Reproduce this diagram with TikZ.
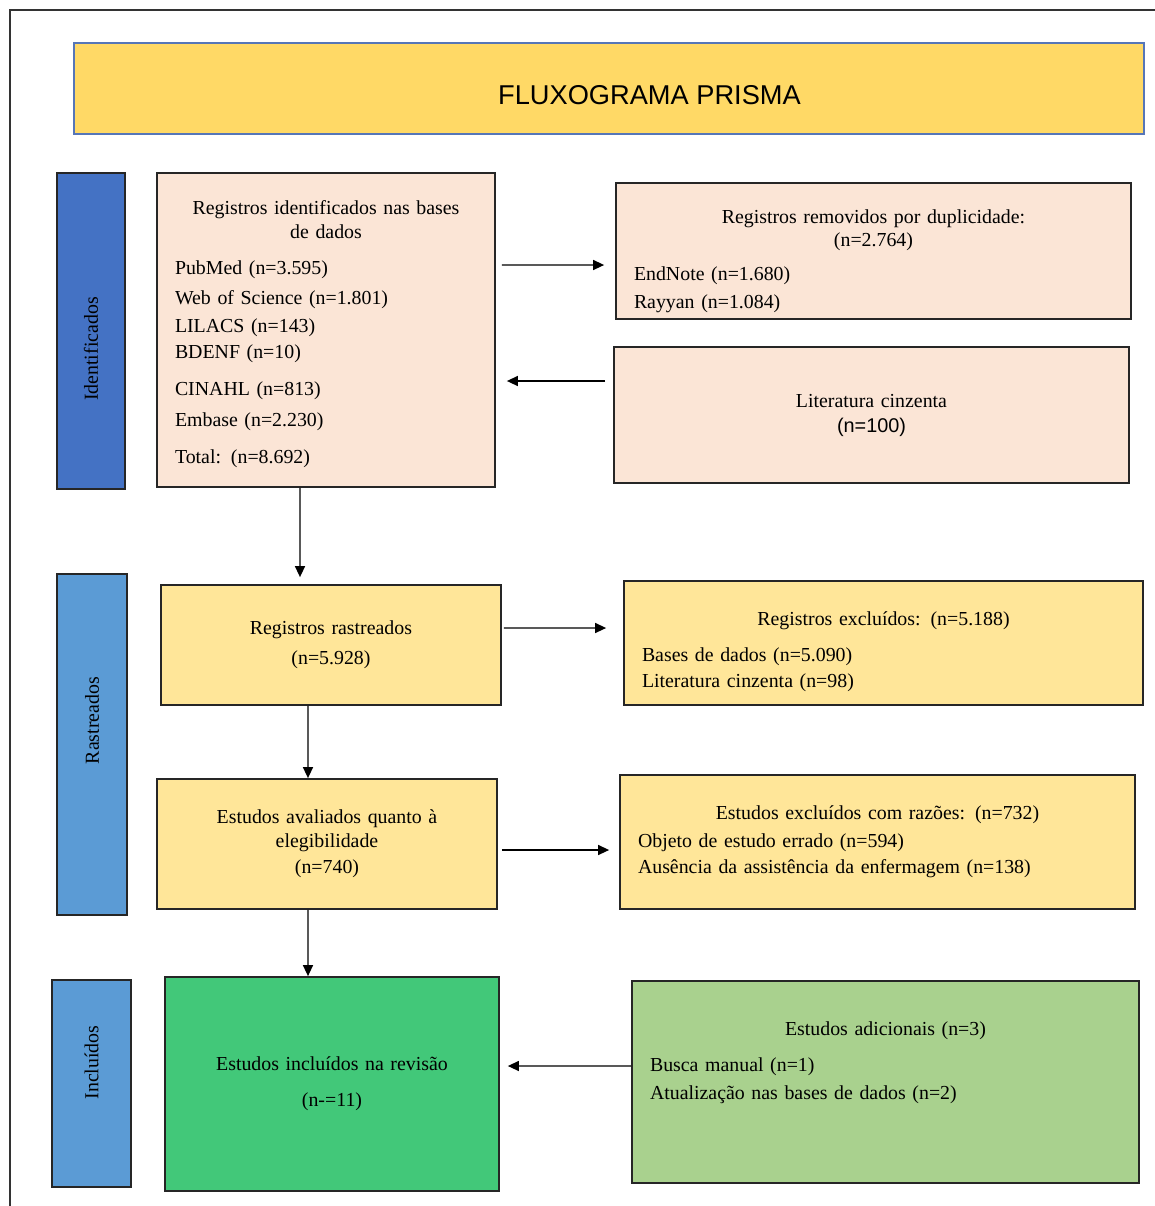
\documentclass[tikz,border=0pt]{standalone}
\usepackage{fontspec}
\setmainfont{Liberation Serif}
\setsansfont{Liberation Sans}
\usetikzlibrary{arrows.meta,calc,positioning}
\definecolor{title}{HTML}{FFD966}
\definecolor{titleedge}{HTML}{5676B8}
\definecolor{bluedark}{HTML}{4472C4}
\definecolor{bluemid}{HTML}{5B9BD5}
\definecolor{peach}{HTML}{FBE5D6}
\definecolor{amberlite}{HTML}{FFE699}
\definecolor{greenstrong}{HTML}{42C879}
\definecolor{greenlite}{HTML}{A9D18E}

\begin{document}
\begin{tikzpicture}[>={Triangle[length=0.22cm,width=0.2cm]},
    stage/.style={draw=black!85,line width=1pt,rotate=90,font=\fontsize{11.3}{13.5}\selectfont},
    box/.style={draw=black!85,line width=1pt,align=left,inner xsep=0.36cm,font=\fontsize{11.3}{13.5}\selectfont},
    arr/.style={->,line width=0.8pt}]
  \useasboundingbox (0,0) rectangle (23.1,-24.12);
  \clip (0,0) rectangle (23.1,-24.12);
  \draw[black!80,line width=1.1pt] (0.2,-0.2) rectangle (23.6,-24.6);
  % title
  \node[draw=titleedge,line width=1pt,fill=title,minimum width=21.4cm,minimum height=1.82cm,text height=0.63cm,text depth=0pt,font=\sffamily\fontsize{15.5}{18}\selectfont] (title) at (12.18,-1.77) {\hspace*{1.62cm}FLUXOGRAMA PRISMA};
  % stages
  \node[stage,fill=bluedark,minimum width=6.32cm,minimum height=1.36cm] (sideid) at (1.82,-6.62) {Identificados\hspace*{0.72cm}};
  \node[stage,fill=bluemid,minimum width=6.82cm,minimum height=1.40cm] (siderast) at (1.84,-14.89) {\hspace*{0.96cm}Rastreados};
  \node[stage,fill=bluemid,minimum width=4.14cm,minimum height=1.58cm] (sideincl) at (1.83,-21.67) {\hspace*{0.84cm}Incluídos};
  % identification
  \node[box,fill=peach,text width=6.04cm,minimum height=6.28cm] (id) at (6.52,-6.60) {{\centering\rule{0pt}{0.45cm}Registros identificados nas bases\\ de dados\par}\vspace{7pt}PubMed (n=3.595)\\[3.6pt] Web of Science (n=1.801)\\[2.4pt] LILACS (n=143)\\[1.3pt] BDENF (n=10)\\[8.1pt] CINAHL (n=813)\\[3.6pt] Embase (n=2.230)\\[8.1pt] Total: (n=8.692)};
  \node[box,fill=peach,text width=9.58cm,minimum height=2.72cm] (dup) at (17.47,-5.02) {{\centering\rule{0pt}{0.68cm}Registros removidos por duplicidade:\\ (n=2.764)\par}\vspace{5.8pt}EndNote (n=1.680)\\[2.4pt] Rayyan (n=1.084)};
  \node[box,align=center,fill=peach,text width=9.58cm,minimum height=2.72cm] (grey) at (17.43,-8.30) {Literatura cinzenta\\[0.7pt] {\sffamily (n=100)}};
  % screening
  \node[box,align=center,fill=amberlite,text width=6.08cm,minimum height=2.40cm] (rast) at (6.62,-12.90) {Registros rastreados\\[3.6pt] (n=5.928)};
  \node[box,fill=amberlite,text width=9.66cm,minimum height=2.48cm] (excl) at (17.67,-12.86) {{\centering\rule{0pt}{0.64cm}Registros excluídos: (n=5.188)\par}\vspace{7pt}Bases de dados (n=5.090)\\[1.3pt] Literatura cinzenta (n=98)};
  \node[box,align=center,fill=amberlite,text width=6.08cm,minimum height=2.60cm] (eleg) at (6.54,-16.88) {Estudos avaliados quanto à\\ elegibilidade\\[1.3pt] (n=740)};
  \node[box,fill=amberlite,text width=9.58cm,minimum height=2.68cm] (reas) at (17.55,-16.84) {{\centering Estudos excluídos com razões: (n=732)\par}\vspace{2.4pt}Objeto de estudo errado (n=594)\\[1.3pt] Ausência da assistência da enfermagem (n=138)};
  % included
  \node[box,align=center,fill=greenstrong,text width=5.96cm,minimum height=4.28cm] (incl) at (6.64,-21.68) {\rule{0pt}{0.2cm}Estudos incluídos na revisão\\[7pt] (n-=11)};
  \node[box,fill=greenlite,text width=9.42cm,minimum height=4.04cm] (adic) at (17.71,-21.64) {{\centering Estudos adicionais (n=3)\par}\vspace{7pt}Busca manual (n=1)\\[2.4pt] Atualização nas bases de dados (n=2)\rule[-0.87cm]{0pt}{0pt}};
  % arrows
  \draw[arr,shorten <=0.12cm,shorten >=0.22cm] ([yshift=1.30cm]id.east) -- ([yshift=-0.28cm]dup.west);
  \draw[arr,shorten <=0.16cm,shorten >=0.22cm] ([yshift=0.68cm]grey.west) -- ([yshift=-1.02cm]id.east);
  \draw[arr,shorten >=0.14cm] ([xshift=-0.52cm]id.south) -- ([xshift=-0.62cm]rast.north);
  \draw[arr,shorten <=0.04cm,shorten >=0.34cm] ([yshift=0.34cm]rast.east) -- ([yshift=0.30cm]excl.west);
  \draw[arr] ([xshift=-0.46cm]rast.south) -- ([xshift=-0.38cm]eleg.north);
  \draw[arr,shorten <=0.08cm,shorten >=0.20cm] ([yshift=-0.12cm]eleg.east) -- ([yshift=-0.16cm]reas.west);
  \draw[arr] ([xshift=-0.38cm]eleg.south) -- ([xshift=-0.48cm]incl.north);
  \draw[arr,shorten >=0.16cm] ([yshift=0.32cm]adic.west) -- ([yshift=0.36cm]incl.east);
\end{tikzpicture}
\end{document}
